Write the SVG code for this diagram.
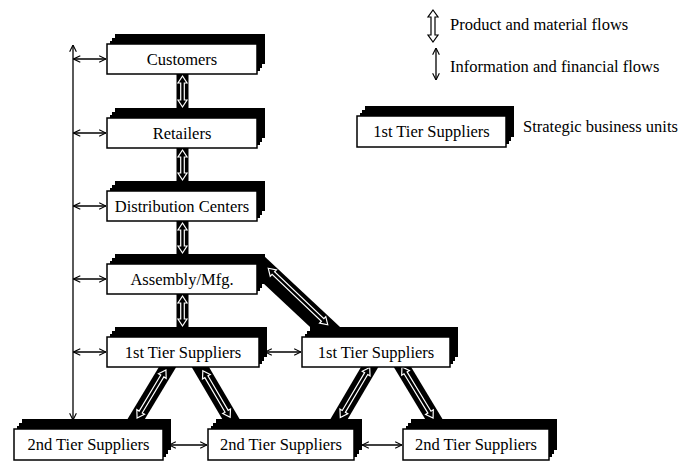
<svg xmlns="http://www.w3.org/2000/svg" width="680" height="462" viewBox="0 0 680 462">
<style>
.sh{fill:#000}
.bx{fill:#fff;stroke:#000;stroke-width:1.5}
.t{font-family:"Liberation Serif","Times New Roman",serif;font-size:16.5px;fill:#000;text-anchor:middle}
.lt{font-family:"Liberation Serif","Times New Roman",serif;font-size:16.5px;fill:#000}
.band{fill:#000}
.bl{stroke:#000;fill:none}
.ha{fill:#000;stroke:#fff;stroke-width:1.2;stroke-linejoin:miter}
.thin{stroke:#000;stroke-width:1.3;fill:none;marker-start:url(#ah);marker-end:url(#ah)}
</style>
<defs>
<marker id="ah" viewBox="0 0 10 10" refX="9.5" refY="5" markerWidth="8" markerHeight="8" markerUnits="userSpaceOnUse" orient="auto-start-reverse">
<path d="M1,0.8 L9.5,5 L1,9.2" fill="none" stroke="#000" stroke-width="1.4"/>
</marker>
</defs>

<g id="connectors">
<rect class="band" x="176.5" y="72" width="12" height="48"/>
<rect class="band" x="176.5" y="146" width="12" height="47"/>
<rect class="band" x="176.5" y="219" width="12" height="47"/>
<rect class="band" x="176.5" y="292" width="12" height="47"/>
<polygon class="band" points="263,255 348.6,335 318.6,335 255,275.5 255,255"/>
<line class="bl" x1="173" y1="358" x2="132" y2="426" stroke-width="15"/>
<line class="bl" x1="195" y1="358" x2="235" y2="426" stroke-width="15"/>
<line class="bl" x1="375" y1="358" x2="335" y2="426" stroke-width="15"/>
<line class="bl" x1="397" y1="358" x2="438" y2="426" stroke-width="15"/>
<path class="ha" transform="translate(182.5,91.5)" d="M0,-15.5 L4.5,-8.5 L1.8,-8.5 L1.8,8.5 L4.5,8.5 L0,15.5 L-4.5,8.5 L-1.8,8.5 L-1.8,-8.5 L-4.5,-8.5 Z"/>
<path class="ha" transform="translate(182.5,165)" d="M0,-15 L4.5,-8 L1.8,-8 L1.8,8 L4.5,8 L0,15 L-4.5,8 L-1.8,8 L-1.8,-8 L-4.5,-8 Z"/>
<path class="ha" transform="translate(182.5,238)" d="M0,-15 L4.5,-8 L1.8,-8 L1.8,8 L4.5,8 L0,15 L-4.5,8 L-1.8,8 L-1.8,-8 L-4.5,-8 Z"/>
<path class="ha" transform="translate(182.5,311)" d="M0,-15 L4.5,-8 L1.8,-8 L1.8,8 L4.5,8 L0,15 L-4.5,8 L-1.8,8 L-1.8,-8 L-4.5,-8 Z"/>
<path class="ha" transform="translate(298,296.5) rotate(-46.5)" d="M0,-41 L4.5,-34 L1.8,-34 L1.8,34 L4.5,34 L0,41 L-4.5,34 L-1.8,34 L-1.8,-34 L-4.5,-34 Z"/>
<path class="ha" transform="translate(151.5,394) rotate(31)" d="M0,-28 L4.5,-21 L1.8,-21 L1.8,21 L4.5,21 L0,28 L-4.5,21 L-1.8,21 L-1.8,-21 L-4.5,-21 Z"/>
<path class="ha" transform="translate(216.5,394) rotate(-30.4)" d="M0,-27 L4.5,-20 L1.8,-20 L1.8,20 L4.5,20 L0,27 L-4.5,20 L-1.8,20 L-1.8,-20 L-4.5,-20 Z"/>
<path class="ha" transform="translate(355,392.5) rotate(30.5)" d="M0,-29 L4.5,-22 L1.8,-22 L1.8,22 L4.5,22 L0,29 L-4.5,22 L-1.8,22 L-1.8,-22 L-4.5,-22 Z"/>
<path class="ha" transform="translate(417.5,392.5) rotate(-31.3)" d="M0,-30 L4.5,-23 L1.8,-23 L1.8,23 L4.5,23 L0,30 L-4.5,23 L-1.8,23 L-1.8,-23 L-4.5,-23 Z"/>
<line class="thin" x1="73" y1="45" x2="73" y2="420"/>
<line class="thin" x1="73.5" y1="59" x2="106" y2="59"/>
<line class="thin" x1="73.5" y1="133" x2="106" y2="133"/>
<line class="thin" x1="73.5" y1="206" x2="106" y2="206"/>
<line class="thin" x1="73.5" y1="279" x2="106" y2="279"/>
<line class="thin" x1="73.5" y1="352" x2="106" y2="352"/>
<line class="thin" x1="265" y1="352" x2="301" y2="352"/>
<line class="thin" x1="169" y1="445" x2="207" y2="445"/>
<line class="thin" x1="362" y1="445" x2="402" y2="445"/>
</g>

<g id="customers">
<rect class="sh" x="115" y="34" width="150" height="30"/><rect class="sh" x="112" y="38" width="150" height="30"/><rect class="sh" x="110" y="41" width="150" height="30"/>
<rect class="bx" x="107" y="44" width="150" height="30"/>
<text class="t" x="182" y="64.5">Customers</text>
</g>
<g id="retailers">
<rect class="sh" x="115" y="108" width="150" height="30"/><rect class="sh" x="112" y="112" width="150" height="30"/><rect class="sh" x="110" y="115" width="150" height="30"/>
<rect class="bx" x="107" y="118" width="150" height="30"/>
<text class="t" x="182" y="138.5">Retailers</text>
</g>
<g id="distribution">
<rect class="sh" x="115" y="181" width="150" height="30"/><rect class="sh" x="112" y="185" width="150" height="30"/><rect class="sh" x="110" y="188" width="150" height="30"/>
<rect class="bx" x="107" y="191" width="150" height="30"/>
<text class="t" x="182" y="211.5">Distribution Centers</text>
</g>
<g id="assembly">
<rect class="sh" x="115" y="254" width="150" height="30"/><rect class="sh" x="112" y="258" width="150" height="30"/><rect class="sh" x="110" y="261" width="150" height="30"/>
<rect class="bx" x="107" y="264" width="150" height="30"/>
<text class="t" x="182" y="284.5">Assembly/Mfg.</text>
</g>
<g id="tier1-left">
<rect class="sh" x="115" y="327" width="152" height="30"/><rect class="sh" x="112" y="331" width="152" height="30"/><rect class="sh" x="110" y="334" width="152" height="30"/>
<rect class="bx" x="107" y="337" width="152" height="30"/>
<text class="t" x="183" y="357.5">1st Tier Suppliers</text>
</g>
<g id="tier1-right">
<rect class="sh" x="310" y="327" width="148" height="30"/><rect class="sh" x="307" y="331" width="148" height="30"/><rect class="sh" x="305" y="334" width="148" height="30"/>
<rect class="bx" x="302" y="337" width="148" height="30"/>
<text class="t" x="376" y="357.5">1st Tier Suppliers</text>
</g>
<g id="tier2-left">
<rect class="sh" x="22" y="419" width="149" height="31"/><rect class="sh" x="19" y="423" width="149" height="31"/><rect class="sh" x="17" y="426" width="149" height="31"/>
<rect class="bx" x="14" y="429" width="149" height="31"/>
<text class="t" x="88.5" y="450">2nd Tier Suppliers</text>
</g>
<g id="tier2-mid">
<rect class="sh" x="216" y="419" width="146" height="31"/><rect class="sh" x="213" y="423" width="146" height="31"/><rect class="sh" x="211" y="426" width="146" height="31"/>
<rect class="bx" x="208" y="429" width="146" height="31"/>
<text class="t" x="281" y="450">2nd Tier Suppliers</text>
</g>
<g id="tier2-right">
<rect class="sh" x="411" y="419" width="146" height="31"/><rect class="sh" x="408" y="423" width="146" height="31"/><rect class="sh" x="406" y="426" width="146" height="31"/>
<rect class="bx" x="403" y="429" width="146" height="31"/>
<text class="t" x="476" y="450">2nd Tier Suppliers</text>
</g>

<g id="legend">
<path transform="translate(433,26)" d="M0,-16 L5,-9 L2,-9 L2,9 L5,9 L0,16 L-5,9 L-2,9 L-2,-9 L-5,-9 Z" fill="#fff" stroke="#000" stroke-width="1.2"/>
<text class="lt" x="450" y="30">Product and material flows</text>
<line class="thin" x1="436" y1="48" x2="436" y2="80"/>
<text class="lt" x="450" y="72">Information and financial flows</text>
<rect class="sh" x="365" y="106" width="149" height="31"/><rect class="sh" x="362" y="110" width="149" height="31"/><rect class="sh" x="360" y="113" width="149" height="31"/>
<rect class="bx" x="357" y="116" width="149" height="31"/>
<text class="t" x="431.5" y="137">1st Tier Suppliers</text>
<text class="lt" x="523" y="132">Strategic business units</text>
</g>
</svg>
